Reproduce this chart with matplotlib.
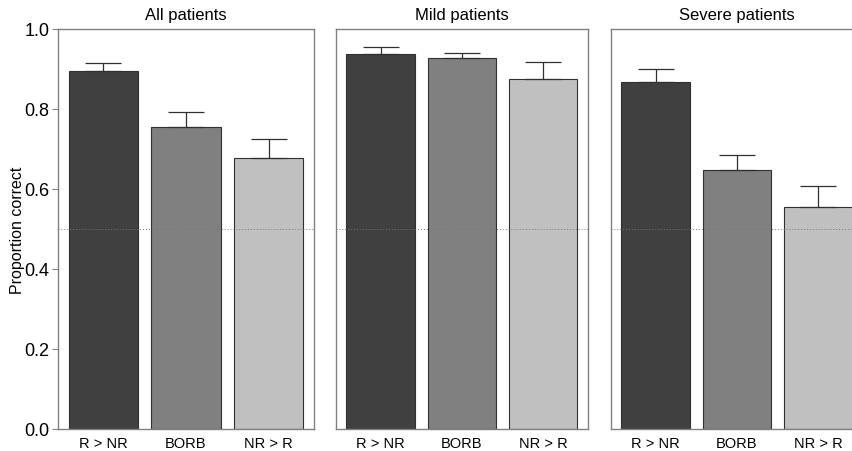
import matplotlib
matplotlib.use("Agg")
import matplotlib.pyplot as plt

plt.rcParams['font.family'] = ['Liberation Sans', 'DejaVu Sans']

# datos
condiciones = ['R > NR', 'BORB', 'NR > R']
paneles = ['All patients', 'Mild patients', 'Severe patients']
medias = [
    [0.894, 0.756, 0.677],
    [0.937, 0.927, 0.874],
    [0.867, 0.648, 0.554],
]
errores = [
    [0.021, 0.037, 0.049],
    [0.018, 0.014, 0.044],
    [0.032, 0.038, 0.053],
]
colores = ['#404040', '#808080', '#c0c0c0']

fig = plt.figure(figsize=(8.53, 4.52), dpi=100)

# posiciones de los paneles (fraccion de figura); el ultimo se sale por la derecha
izquierdas = [0.068, 0.3936, 0.716]
anchos = [0.300, 0.2958, 0.296]
abajo, alto = 0.0487, 0.885

for i, titulo in enumerate(paneles):
    ax = fig.add_axes([izquierdas[i], abajo, anchos[i], alto])
    x = range(len(condiciones))
    ax.bar(x, medias[i], width=0.84, color=colores,
           edgecolor='#303030', linewidth=0.8, zorder=2)
    ax.errorbar(x, medias[i], yerr=[[0] * 3, errores[i]], fmt='none',
                ecolor='#303030', elinewidth=0.9, capsize=13, capthick=0.9, zorder=3)
    ax.axhline(0.5, color='#777777', linestyle=(0, (1, 2)), linewidth=0.7, zorder=4)
    ax.set_xlim(-0.55, 2.55)
    ax.set_ylim(0, 1.0)
    ax.set_xticks(list(x))
    ax.set_xticklabels(condiciones, fontsize=10.5)
    ax.tick_params(axis='x', length=0, pad=5)
    ax.set_title(titulo, fontsize=12, pad=7)
    for s in ax.spines.values():
        s.set_color('#808080')
        s.set_linewidth(1.0)
    if i == 0:
        ax.set_yticks([0, 0.2, 0.4, 0.6, 0.8, 1.0])
        ax.set_yticklabels(['0.0', '0.2', '0.4', '0.6', '0.8', '1.0'], fontsize=13)
        ax.tick_params(axis='y', length=4, color='#808080', pad=2)
        ax.set_ylabel('Proportion correct', fontsize=11.5, labelpad=0)
    else:
        ax.set_yticks([])

fig.savefig('out.png', dpi=100)
